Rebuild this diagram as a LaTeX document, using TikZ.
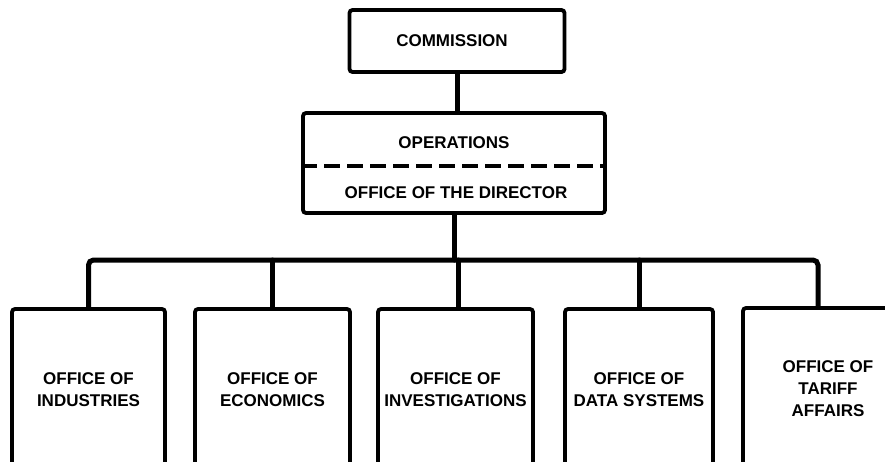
\documentclass[tikz,border=0pt]{standalone}
\usepackage{fontspec}
\setmainfont{Liberation Sans}
\begin{document}
\begin{tikzpicture}[x=1pt,y=-1pt,
  box/.style={draw=black, line width=3.8pt, rounded corners=3pt, fill=white, inner sep=0pt},
  lbl/.style={font=\fontsize{17}{22}\selectfont\bfseries, align=center, inner sep=0pt},
  office/.style={box, lbl, minimum height=162pt, text depth=0pt},
  conn/.style={line width=5pt, line cap=round},
  split/.style={line width=3.8pt, dash pattern=on 16pt off 7pt}]
\useasboundingbox (0,0) rectangle (885,461);
\fill[white] (0,0) rectangle (885,461);
\begin{scope}
\clip (0,0) rectangle (885,461);
% top boxes
\node[box, minimum width=215pt, minimum height=62pt] (comm) at (457,41) {};
\node[lbl] (commt) at (452,41) {COMMISSION};
\node[box, minimum width=302pt, minimum height=100pt] (ops) at (454,163) {};
\node[lbl] (opsa) at (454,143) {OPERATIONS};
\node[lbl] (opsb) at (456,193) {OFFICE OF THE DIRECTOR};
\coordinate (dash) at (0,166);
\draw[split] (ops.west |- dash) -- (ops.east |- dash);
% bottom boxes
\node[office, minimum width=153pt] (ind) at (88.5,390) {OFFICE OF\\INDUSTRIES};
\node[office, minimum width=155pt] (eco) at (272.5,390) {OFFICE OF\\ECONOMICS};
\node[office, minimum width=155pt] (inv) at (455.5,390) {OFFICE OF\\INVESTIGATIONS};
\node[office, minimum width=148pt] (dat) at (639,390) {OFFICE OF\\DATA SYSTEMS};
\node[office, minimum width=170pt] (tar) at (828,389) {OFFICE OF\\TARIFF\\AFFAIRS};
% connectors
\coordinate (busy) at (0,260);
\coordinate (tartop) at (818,309);
\draw[conn] (comm.south) -- (comm.south |- ops.north);
\draw[conn, rounded corners=5pt, line cap=butt] (ind.north) -- (ind.north |- busy) -- (tartop |- busy) -- (tartop);
\draw[conn] (ops.south) -- (ops.south |- busy);
\draw[conn] (eco.north) -- (eco.north |- busy);
\draw[conn] ([xshift=2.5pt]inv.north) -- ([xshift=2.5pt]inv.north |- busy);
\draw[conn] (dat.north) -- (dat.north |- busy);
\end{scope}
\end{tikzpicture}
\end{document}
